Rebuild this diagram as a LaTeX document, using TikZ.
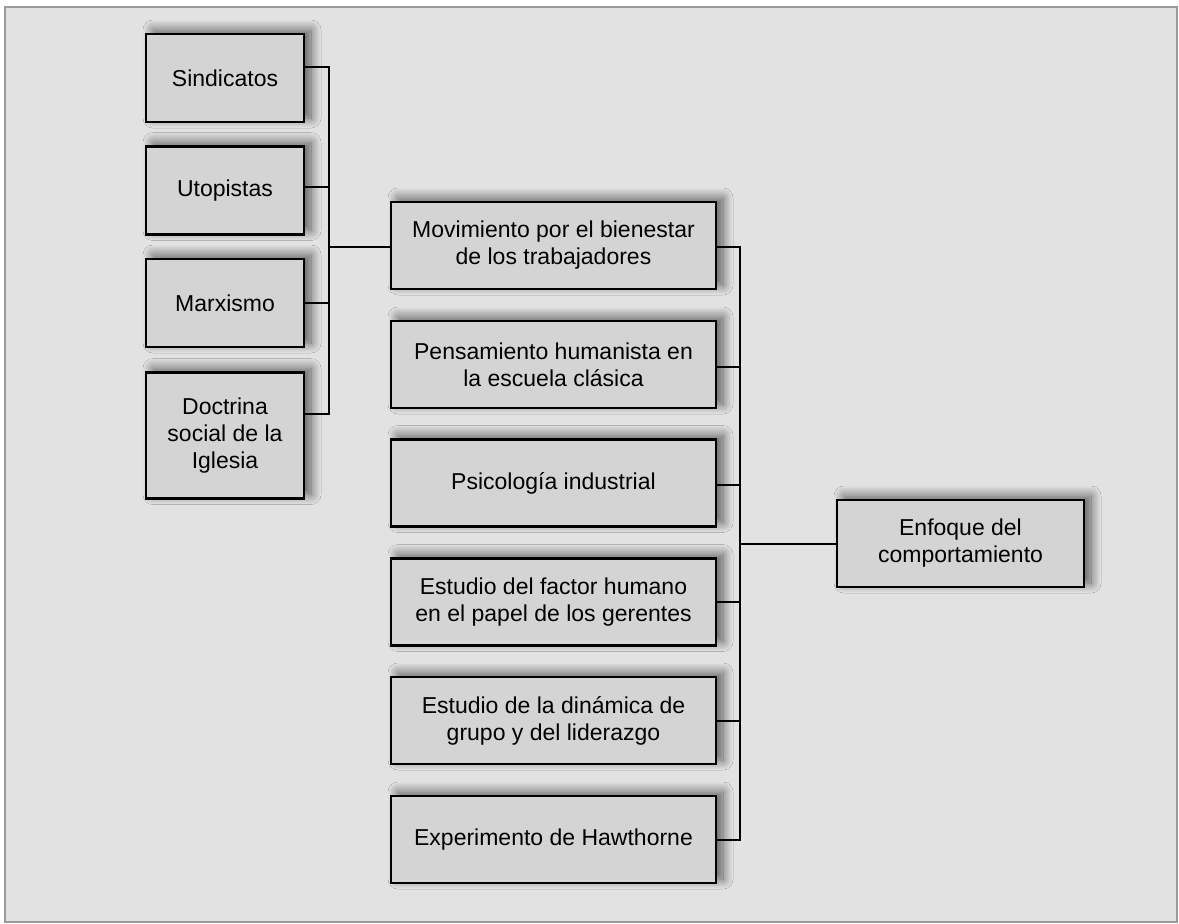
\documentclass[tikz,border=0pt]{standalone}
\usepackage{fontspec}
\setmainfont{Liberation Sans}
\usetikzlibrary{shadows.blur}
\definecolor{bggray}{HTML}{E2E2E2}
\definecolor{boxgray}{HTML}{D4D4D4}
\definecolor{framegray}{HTML}{9A9A9A}

\begin{document}
\begin{tikzpicture}[x=1pt,y=-1pt,
  box/.style={draw=black,line width=2.2pt,fill=boxgray,align=center,
    font=\fontsize{23}{27}\selectfont,inner sep=0pt,
    blur shadow={shadow xshift=7pt,shadow yshift=4pt,shadow blur radius=10pt,
      shadow blur steps=16,shadow opacity=60}},
  leftbox/.style={box,minimum width=158,minimum height=88},
  midbox/.style={box,minimum width=325,minimum height=87},
  conn/.style={line width=2pt}]
  \useasboundingbox (0,0) rectangle (1179,924);
  \fill[white] (0,0) rectangle (1179,924);
  \draw[framegray,line width=2pt,fill=bggray] (5,7) rectangle (1177,922);

  % left column
  \node[leftbox] (sind) at (225,78) {Sindicatos};
  \node[leftbox] (utop) at (225,190.5) {Utopistas};
  \node[leftbox] (marx) at (225,303) {Marxismo};
  \node[leftbox,minimum height=126] (doct) at (225,435.5) {Doctrina\\social de la\\Iglesia};

  % middle column
  \node[midbox] (mov) at (553.5,245.5) {Movimiento por el bienestar\\de los trabajadores};
  \node[midbox] (pens) at (553.5,364.5) {Pensamiento humanista en\\la escuela cl\'asica};
  \node[midbox] (psic) at (553.5,483) {Psicolog\'ia industrial};
  \node[midbox] (fact) at (553.5,602) {Estudio del factor humano\\en el papel de los gerentes};
  \node[midbox] (dina) at (553.5,720.5) {Estudio de la din\'amica de\\grupo y del liderazgo};
  \node[midbox] (haw) at (553.5,839.5) {Experimento de Hawthorne};

  % right
  \node[box,minimum width=247,minimum height=87] (enf) at (960.5,543.5) {Enfoque del\\comportamiento};

  % connectors left
  \draw[conn] ([yshift=11pt]sind.east) -- ++(24,0) coordinate (ltop) |- ([yshift=22pt]doct.east);
  \draw[conn] ([yshift=3.5pt]utop.east) -- ([yshift=3.5pt]utop.east -| ltop);
  \draw[conn] (marx.east) -- (marx.east -| ltop);
  \draw[conn] ([yshift=-1.5pt]mov.west) -- ([yshift=-1.5pt]mov.west -| ltop);

  % connectors right
  \draw[conn] ([yshift=-1.5pt]mov.east) -- ++(23,0) coordinate (rtop) |- (haw.east);
  \draw[conn] ([yshift=-2.5pt]pens.east) -- ([yshift=-2.5pt]pens.east -| rtop);
  \draw[conn] ([yshift=-2pt]psic.east) -- ([yshift=-2pt]psic.east -| rtop);
  \draw[conn] (fact.east) -- (fact.east -| rtop);
  \draw[conn] (dina.east) -- (dina.east -| rtop);
  \draw[conn] (enf.west) -- (enf.west -| rtop);
\end{tikzpicture}
\end{document}
